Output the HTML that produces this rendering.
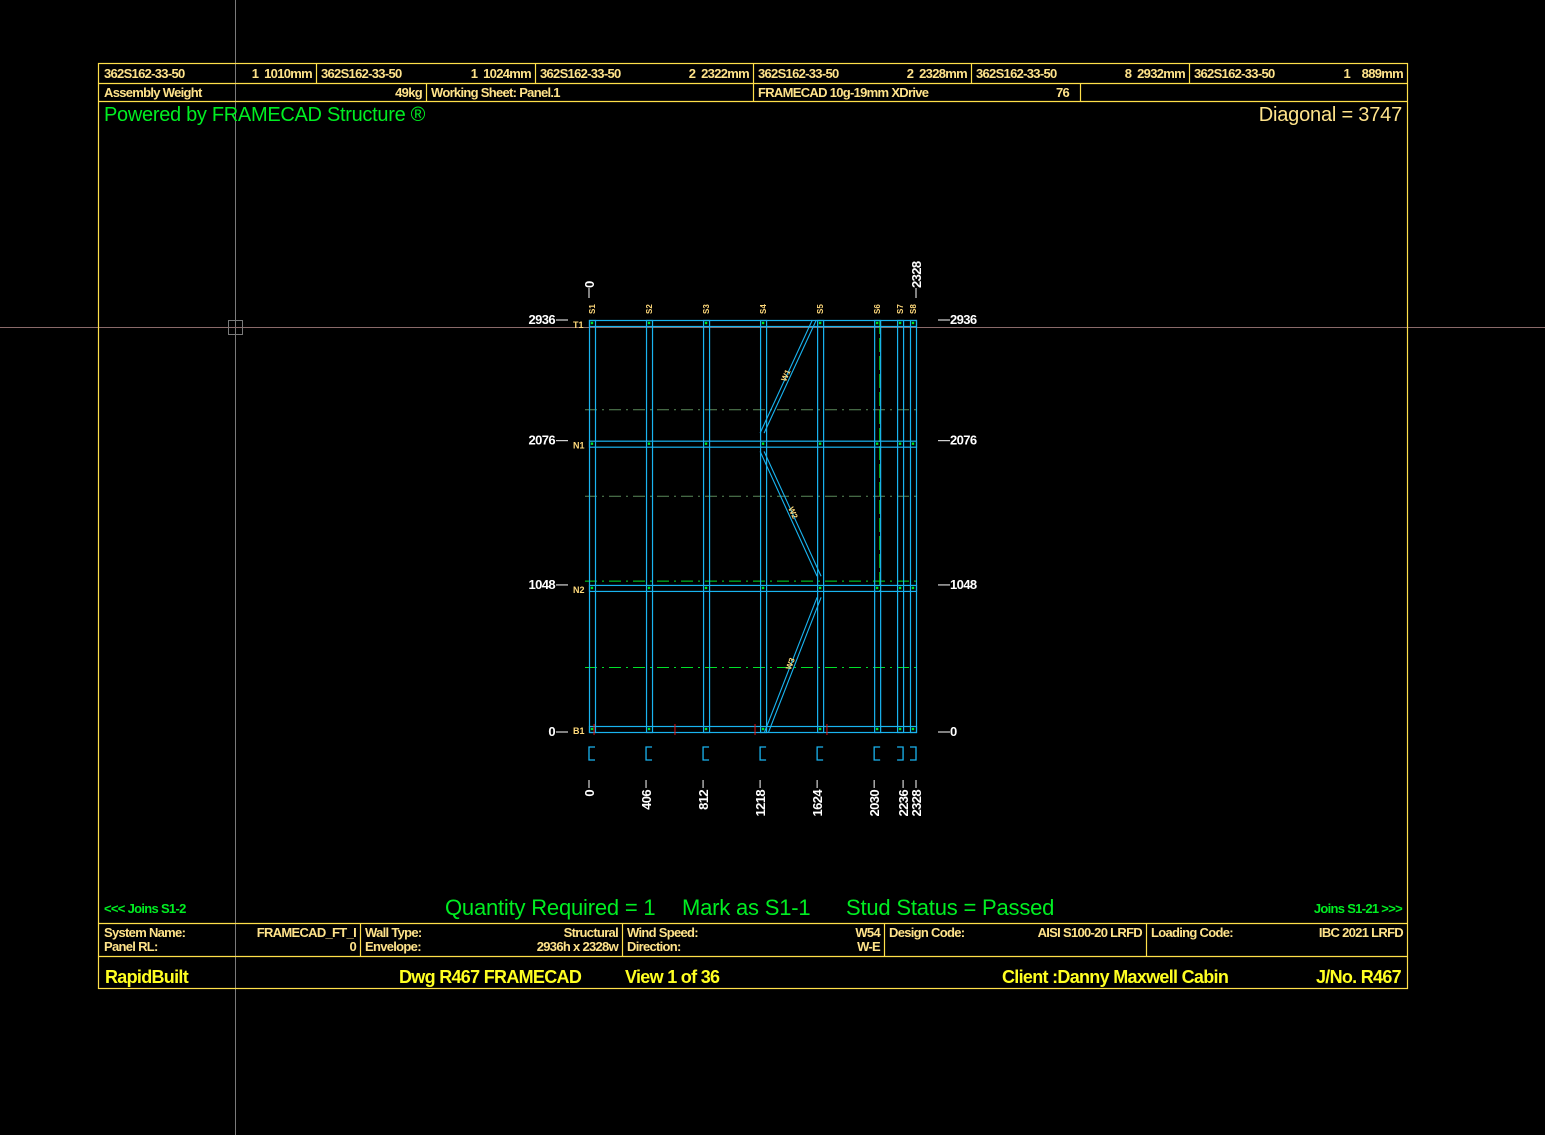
<!DOCTYPE html>
<html><head><meta charset="utf-8">
<style>
html,body{margin:0;padding:0;background:#000;}
svg{display:block;font-family:"Liberation Sans",sans-serif;}
text{white-space:pre;}
.hd{fill:#ffe38a;font-size:13px;font-weight:bold;letter-spacing:-0.7px;}
.fr{stroke:#ffe04a;stroke-width:1.2;fill:none;}
.gr{fill:#00ee22;}
.yl{fill:#ffff22;font-weight:bold;}
</style></head>
<body>
<svg id="dwg" width="1545" height="1135" viewBox="0 0 1545 1135">
<rect x="0" y="0" width="1545" height="1135" fill="#000"/>
<line x1="235.5" y1="0" x2="235.5" y2="1135" stroke="#7a7a7a" stroke-width="1"/>
<line x1="0" y1="327.5" x2="1545" y2="327.5" stroke="#8a6a6a" stroke-width="1"/>
<rect x="228.5" y="320.5" width="14" height="14" fill="none" stroke="#7a7a7a"/>

<g>
<rect class="fr" x="98.5" y="63.5" width="1309" height="925"/>
<line class="fr" x1="98" y1="83.5" x2="1407" y2="83.5"/>
<line class="fr" x1="98" y1="101.5" x2="1407" y2="101.5"/>
<line class="fr" x1="316.5" y1="63" x2="316.5" y2="83"/>
<line class="fr" x1="535.5" y1="63" x2="535.5" y2="83"/>
<line class="fr" x1="753.5" y1="63" x2="753.5" y2="101"/>
<line class="fr" x1="971.5" y1="63" x2="971.5" y2="83"/>
<line class="fr" x1="1189.5" y1="63" x2="1189.5" y2="83"/>
<line class="fr" x1="426.5" y1="83" x2="426.5" y2="101"/>
<line class="fr" x1="1080.5" y1="83" x2="1080.5" y2="101"/>
<line class="fr" x1="98" y1="923.5" x2="1407" y2="923.5"/>
<line class="fr" x1="98" y1="956.5" x2="1407" y2="956.5"/>
<line class="fr" x1="360.5" y1="923" x2="360.5" y2="956"/>
<line class="fr" x1="622.5" y1="923" x2="622.5" y2="956"/>
<line class="fr" x1="884.5" y1="923" x2="884.5" y2="956"/>
<line class="fr" x1="1146.5" y1="923" x2="1146.5" y2="956"/>

<text class="hd" x="104" y="78">362S162-33-50</text><text class="hd" x="312" y="78" text-anchor="end">1  1010mm</text>
<text class="hd" x="321" y="78">362S162-33-50</text><text class="hd" x="531" y="78" text-anchor="end">1  1024mm</text>
<text class="hd" x="540" y="78">362S162-33-50</text><text class="hd" x="749" y="78" text-anchor="end">2  2322mm</text>
<text class="hd" x="758" y="78">362S162-33-50</text><text class="hd" x="967" y="78" text-anchor="end">2  2328mm</text>
<text class="hd" x="976" y="78">362S162-33-50</text><text class="hd" x="1185" y="78" text-anchor="end">8  2932mm</text>
<text class="hd" x="1194" y="78">362S162-33-50</text><text class="hd" x="1403" y="78" text-anchor="end">1    889mm</text>
<text class="hd" x="104" y="97">Assembly Weight</text><text class="hd" x="422" y="97" text-anchor="end">49kg</text>
<text class="hd" x="431" y="97">Working Sheet: Panel.1</text>
<text class="hd" x="758" y="97">FRAMECAD 10g-19mm XDrive</text><text class="hd" x="1069" y="97" text-anchor="end">76</text>
<text class="gr" x="104" y="121" font-size="20" letter-spacing="-0.3">Powered by FRAMECAD Structure ®</text>
<text x="1402" y="121" font-size="20" fill="#ffe38a" text-anchor="end" letter-spacing="-0.2">Diagonal = 3747</text>

<text class="gr" x="104" y="913" font-size="13" font-weight="bold" letter-spacing="-0.7">&lt;&lt;&lt; Joins S1-2</text>
<text class="gr" x="1402" y="913" font-size="13" font-weight="bold" letter-spacing="-0.7" text-anchor="end">Joins S1-21 &gt;&gt;&gt;</text>
<text class="gr" x="445" y="915" font-size="22" letter-spacing="-0.2">Quantity Required = 1</text>
<text class="gr" x="682" y="915" font-size="22" letter-spacing="-0.2">Mark as S1-1</text>
<text class="gr" x="846" y="915" font-size="22" letter-spacing="-0.2">Stud Status = Passed</text>

<text class="hd" x="104" y="937">System Name:</text><text class="hd" x="356" y="937" text-anchor="end">FRAMECAD_FT_I</text>
<text class="hd" x="104" y="951">Panel RL:</text><text class="hd" x="356" y="951" text-anchor="end">0</text>
<text class="hd" x="365" y="937">Wall Type:</text><text class="hd" x="618" y="937" text-anchor="end">Structural</text>
<text class="hd" x="365" y="951">Envelope:</text><text class="hd" x="618" y="951" text-anchor="end">2936h x 2328w</text>
<text class="hd" x="627" y="937">Wind Speed:</text><text class="hd" x="880" y="937" text-anchor="end">W54</text>
<text class="hd" x="627" y="951">Direction:</text><text class="hd" x="880" y="951" text-anchor="end">W-E</text>
<text class="hd" x="889" y="937">Design Code:</text><text class="hd" x="1142" y="937" text-anchor="end">AISI S100-20 LRFD</text>
<text class="hd" x="1151" y="937">Loading Code:</text><text class="hd" x="1403" y="937" text-anchor="end">IBC 2021 LRFD</text>

<text class="yl" x="105" y="983" font-size="18" letter-spacing="-0.7">RapidBuilt</text>
<text class="yl" x="399" y="983" font-size="18" letter-spacing="-0.7">Dwg R467 FRAMECAD</text>
<text class="yl" x="625" y="983" font-size="18" letter-spacing="-0.7">View 1 of 36</text>
<text class="yl" x="1002" y="983" font-size="18" letter-spacing="-0.7">Client :Danny Maxwell Cabin</text>
<text class="yl" x="1401" y="983" font-size="18" letter-spacing="-0.7" text-anchor="end">J/No. R467</text>
</g>
<g id="panel"></g>
</svg>
<script>
const studPos = [0, 406, 812, 1218, 1624, 2030, 2236, 2328];
const studLabels = ['S1','S2','S3','S4','S5','S6','S7','S8'];
const studFlip = [0, 0, 0, 0, 0, 0, 1, 1];
const plateHeights = [2936, 2076, 1048, 0];
const plateLabels = ['T1','N1','N2','B1'];
const dashHeights = [2296, 1680, 1075, 460];
const webLabels = ['W1','W2','W3'];
const webStart = [[1218, 2130], [1218, 2000], [1624, 960]];
const webEnd = [[1590, 2936], [1624, 1110], [1250, 0]];
const serviceMarks = [36, 612, 1182, 1694];

const X0 = 589, KX = 327 / 2328, Y0 = 732, KY = 412 / 2936;
const xs = v => X0 + v * KX;
const ys = v => Y0 - v * KY;
const g = document.getElementById('panel');
const NS = 'http://www.w3.org/2000/svg';
function mk(tag, attrs, txt) {
  const e = document.createElementNS(NS, tag);
  for (const k in attrs) e.setAttribute(k, attrs[k]);
  if (txt !== undefined) e.textContent = txt;
  g.appendChild(e);
  return e;
}
const C = '#19b4f0';
const W = 6;
const xL = xs(0), xR = xs(2328);

dashHeights.forEach((h, i) => {
  const l = mk('line', {x1: xL - 4, x2: xR + 3, y1: ys(h), y2: ys(h), stroke: i < 2 ? '#5a8a5a' : '#00e02a', 'stroke-width': 1, 'stroke-dasharray': '12 5 2 5'});
  
  
});
{
  const l = mk('line', {x1: xs(2070), x2: xs(2070), y1: ys(2936), y2: ys(1000), stroke: '#00e02a', 'stroke-width': 1, 'stroke-dasharray': '14 4'});
  
  
}
plateHeights.forEach((h, i) => {
  const y = i === 3 ? ys(h) - W : ys(h);
  const r = mk('rect', {x: xL + 0.5, y: y + 0.5, width: xR - xL, height: W, fill: 'none', stroke: C, 'stroke-width': 1.2});
  
  
  const t = mk('text', {x: xL - 16, y: y + 8, fill: '#ffd97a', 'font-size': 9, 'font-weight': 'bold'}, plateLabels[i]);
  
  
  const lab = mk('text', {x: 555, y: ys(h) + 4, fill: '#fff', 'font-size': 13, 'font-weight': 'bold', 'text-anchor': 'end', 'letter-spacing': '-0.6'}, String(h));
  
  
  mk('line', {x1: 556, x2: 568, y1: ys(h), y2: ys(h), stroke: '#fff', 'stroke-width': 1});
  mk('line', {x1: 938, x2: 950, y1: ys(h), y2: ys(h), stroke: '#fff', 'stroke-width': 1});
  const lab2 = mk('text', {x: 950, y: ys(h) + 4, fill: '#fff', 'font-size': 13, 'font-weight': 'bold', 'letter-spacing': '-0.6'}, String(h));
  
  
});
studPos.forEach((p, i) => {
  const x = studFlip[i] ? xs(p) - W : xs(p);
  const r = mk('rect', {x: x + 0.5, y: ys(2936) + 0.5, width: W, height: ys(0) - ys(2936), fill: 'none', stroke: C, 'stroke-width': 1.2});
  
  
  const cx = x + W / 2;
  const t = mk('text', {x: 0, y: 0, fill: '#ffd97a', 'font-size': 8, 'font-weight': 'bold', transform: `translate(${cx + 3},${ys(2936) - 6}) rotate(-90)`}, studLabels[i]);
  
  
  const sy = ys(0) + 15;
  const d = studFlip[i] ? `M${x} ${sy} H${x + W} V${sy + 13} H${x}` : `M${x + W} ${sy} H${x} V${sy + 13} H${x + W}`;
  const s = mk('path', {d: d, fill: 'none', stroke: C, 'stroke-width': 1.3});
  
  
  plateHeights.forEach((h, j) => {
    const yy = j === 3 ? ys(h) - W / 2 : ys(h) + W / 2;
    mk('rect', {x: cx - 1.2, y: yy - 1.2, width: 2.4, height: 2.4, fill: '#00e02a'});
  });
  mk('line', {x1: xs(p), x2: xs(p), y1: 780, y2: 788, stroke: '#fff', 'stroke-width': 1});
  const lab = mk('text', {x: 0, y: 0, fill: '#fff', 'font-size': 13, 'font-weight': 'bold', 'text-anchor': 'end', 'letter-spacing': '-0.6', transform: `translate(${xs(p) + 5},790) rotate(-90)`}, String(p));
  
  
});
[[0, '0'], [2328, '2328']].forEach(([p, s]) => {
  mk('line', {x1: xs(p), x2: xs(p), y1: 288, y2: 298, stroke: '#fff', 'stroke-width': 1});
  const t = mk('text', {x: 0, y: 0, fill: '#fff', 'font-size': 13, 'font-weight': 'bold', 'letter-spacing': '-0.6', transform: `translate(${xs(p) + 5},288) rotate(-90)`}, s);
  
  
});
webStart.forEach((a, i) => {
  const b = webEnd[i];
  const x1 = xs(a[0]) + 2, y1 = ys(a[1]), x2 = xs(b[0]) + 2, y2 = ys(b[1]);
  [-2, 2].forEach(o => {
    const l = mk('line', {x1: x1 + o, y1: y1, x2: x2 + o, y2: y2, stroke: C, 'stroke-width': 1.1});
    
    
  });
  const mx = (x1 + x2) / 2, my = (y1 + y2) / 2;
  const ang = Math.atan2(y2 - y1, x2 - x1) * 180 / Math.PI;
  const t = mk('text', {x: 0, y: 0, fill: '#ffd97a', 'font-size': 8, 'font-weight': 'bold', 'text-anchor': 'middle', transform: `translate(${mx},${my}) rotate(${ang > 90 || ang < -90 ? ang + 180 : ang})`}, webLabels[i]);
  
  
});
serviceMarks.forEach(v => {
  const l = mk('line', {x1: xs(v), x2: xs(v), y1: ys(0) - 8, y2: ys(0) + 3, stroke: '#e01010', 'stroke-width': 1});
  
  
});
</script>
</body></html>
